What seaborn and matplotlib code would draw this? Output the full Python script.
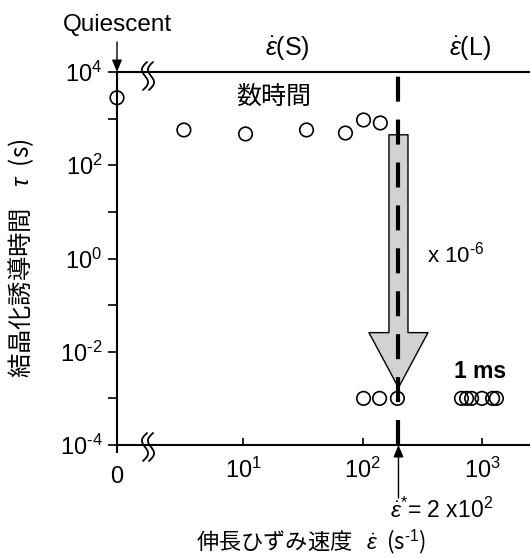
import numpy as np
import pandas as pd
import matplotlib
matplotlib.use("Agg")
import matplotlib.pyplot as plt
import matplotlib.transforms as mtransforms
from matplotlib.ticker import FixedLocator, FixedFormatter, NullFormatter
import seaborn as sns

# ---- data -------------------------------------------------------------
# strain rate (1/s) and crystallization induction time (s)
rate_slow = [3.2, 10.5, 34, 72, 102, 141]
tau_slow = [571, 469, 571, 491, 935, 807]
rate_fast = [102, 139, 196, 673, 743, 818, 1000, 1227, 1320]
tau_fast = [1e-3, 1e-3, 1e-3, 1e-3, 1e-3, 1e-3, 1e-3, 1e-3, 1e-3]
tau_quiescent = 2800          # plotted at the "0" position of the axis
critical_rate = 2e2           # critical strain rate
arrow_from_tau = 4.5e2
arrow_to_tau = 1.7e-3

y_major = [1e-4, 1e-2, 1e0, 1e2, 1e4]
y_major_labels = [r"$10^{\text{-}4}$", r"$10^{\text{-}2}$", r"$10^{0}$",
                  r"$10^{2}$", r"$10^{4}$"]
y_minor = [1e-3, 1e-1, 1e1, 1e3]
x_major = [1e1, 1e2, 1e3]
x_major_labels = [r"$10^{1}$", r"$10^{2}$", r"$10^{3}$"]

df = pd.DataFrame({
    "rate": rate_slow + rate_fast,
    "tau": tau_slow + tau_fast,
})

# ---- style ------------------------------------------------------------
sns.set_theme(style="ticks")
plt.rcParams["font.family"] = ["Liberation Sans", "Noto Sans CJK JP"]
plt.rcParams["mathtext.fontset"] = "custom"
plt.rcParams["mathtext.rm"] = "Liberation Sans"
plt.rcParams["mathtext.it"] = "Liberation Sans:italic"
plt.rcParams["mathtext.bf"] = "Liberation Sans:bold"
for key in ["text.color", "axes.labelcolor", "xtick.color", "ytick.color",
            "axes.edgecolor"]:
    plt.rcParams[key] = "black"
cjk = ["Noto Sans CJK JP", "Liberation Sans"]
EPS = r"\dot{\mathit{\varepsilon}}"

W, H = 530, 558
fig = plt.figure(figsize=(W / 100, H / 100), dpi=100)
ax = fig.add_axes([117 / W, 1 - 445 / H, (530 - 117) / W, (445 - 72) / H])

x_min, x_max = 0.882, 2522
ax.set_xscale("log")
ax.set_yscale("log")
ax.set_xlim(x_min, x_max)
ax.set_ylim(1e-4, 1e4)

# markers
sns.scatterplot(data=df, x="rate", y="tau", ax=ax, marker="o", s=95,
                facecolor="none", edgecolor="black", linewidth=1.2,
                zorder=5, clip_on=False, legend=False)
qtrans = mtransforms.blended_transform_factory(ax.transAxes, ax.transData)
ax.scatter([0], [tau_quiescent], transform=qtrans, marker="o", s=95,
           facecolor="none", edgecolor="black", linewidth=1.2,
           zorder=5, clip_on=False)

# spines
for side in ["left", "bottom", "top"]:
    ax.spines[side].set_linewidth(1.5)
    ax.spines[side].set_color("black")
ax.spines["right"].set_visible(False)

# y ticks
ax.yaxis.set_major_locator(FixedLocator(y_major))
ax.yaxis.set_major_formatter(FixedFormatter(y_major_labels))
ax.yaxis.set_minor_locator(FixedLocator(y_minor))
ax.yaxis.set_minor_formatter(NullFormatter())
ax.tick_params(axis="y", which="both", direction="out", length=6.5,
               width=1.2, color="black", labelsize=17, pad=4)

# x ticks: inward decades, outward "0" at the axis origin
ax.xaxis.set_major_locator(FixedLocator(x_major))
ax.xaxis.set_major_formatter(FixedFormatter(x_major_labels))
ax.xaxis.set_minor_locator(FixedLocator([x_min]))
ax.xaxis.set_minor_formatter(FixedFormatter(["0"]))
ax.tick_params(axis="x", which="major", direction="in", length=5,
               width=1.2, color="black", labelsize=17, pad=9)
ax.tick_params(axis="x", which="minor", direction="out", length=6,
               width=1.5, color="black", labelsize=17, pad=9)
ax.tick_params(top=False, right=False, which="both")

# axis labels
ax.set_xlabel(r"伸長ひずみ速度   $" + EPS + r"$  (s$^{\text{-}1}$)",
              fontsize=16, family=cjk, va="center")
ax.xaxis.set_label_coords((311 - 117) / 413, -(542 - 445) / 373)
ax.set_ylabel(r"結晶化誘導時間    $\mathit{\tau}$  (s)", fontsize=17.5,
              family=cjk, va="center")
ax.yaxis.set_label_coords((21 - 117) / 413, 1 - (258 - 72) / 373)

# critical strain-rate line and shaded arrow
ax.axvline(critical_rate, color="black", lw=3, dashes=(6, 4.3), zorder=4)
ax.annotate("", xy=(critical_rate, arrow_to_tau),
            xytext=(critical_rate, arrow_from_tau),
            arrowprops=dict(arrowstyle="simple,head_length=3.96,head_width=4.25,tail_width=1.37",
                            mutation_scale=10, fc="#d2d2d2", ec="black", lw=1,
                            shrinkA=0, shrinkB=0), zorder=3)

# arrow below the axis pointing at the critical rate
ax.annotate("", xy=(critical_rate, 0), xycoords=("data", "axes fraction"),
            xytext=(critical_rate, -(498 - 445) / 373),
            textcoords=("data", "axes fraction"),
            arrowprops=dict(arrowstyle="-|>,head_length=0.6,head_width=0.25",
                            color="black", lw=1, shrinkA=0, shrinkB=0),
            annotation_clip=False)
# Quiescent arrow
ax.annotate("", xy=(0, 1), xycoords="axes fraction",
            xytext=(0, 1 + (72 - 42) / 373), textcoords="axes fraction",
            arrowprops=dict(arrowstyle="-|>,head_length=0.6,head_width=0.25",
                            color="black", lw=1, shrinkA=0, shrinkB=0),
            annotation_clip=False)

# axis-break marks on top and bottom spines
def draw_break(xa, ya, dy_px):
    trans = fig.dpi_scale_trans + mtransforms.ScaledTranslation(xa, ya, ax.transAxes)
    t = np.linspace(-1, 1, 60)
    yy = 0.14 * t - dy_px / 100
    for off in (0.0, 0.06):
        xx = off + 0.02 * t - 0.04 * np.sin(np.pi * t)
        ax.plot(xx - 0.03, yy, color="black", lw=1.3, transform=trans,
                clip_on=False, zorder=6)

draw_break((148 - 117) / 413, 1.0, 4)
draw_break((148 - 117) / 413, 0.0, 2)

# text annotations
def px_text(x, y, s, **kw):
    fig.text(x / W, 1 - y / H, s, ha="center", va="center", **kw)

px_text(117, 25, "Quiescent", fontsize=17.5)
px_text(287, 48, r"$" + EPS + r"$(S)", fontsize=18)
px_text(470, 48, r"$" + EPS + r"$(L)", fontsize=18)
px_text(274, 97, "数時間", fontsize=18, family=cjk)
px_text(456, 255, r"x 10$^{\text{-}6}$", fontsize=16)
px_text(480, 372, "1 ms", fontsize=16.5, fontweight="bold")
px_text(442, 510, r"$" + EPS + r"^{*}$= 2 x10$^{2}$", fontsize=16.5)

fig.savefig("out.png", dpi=100)
